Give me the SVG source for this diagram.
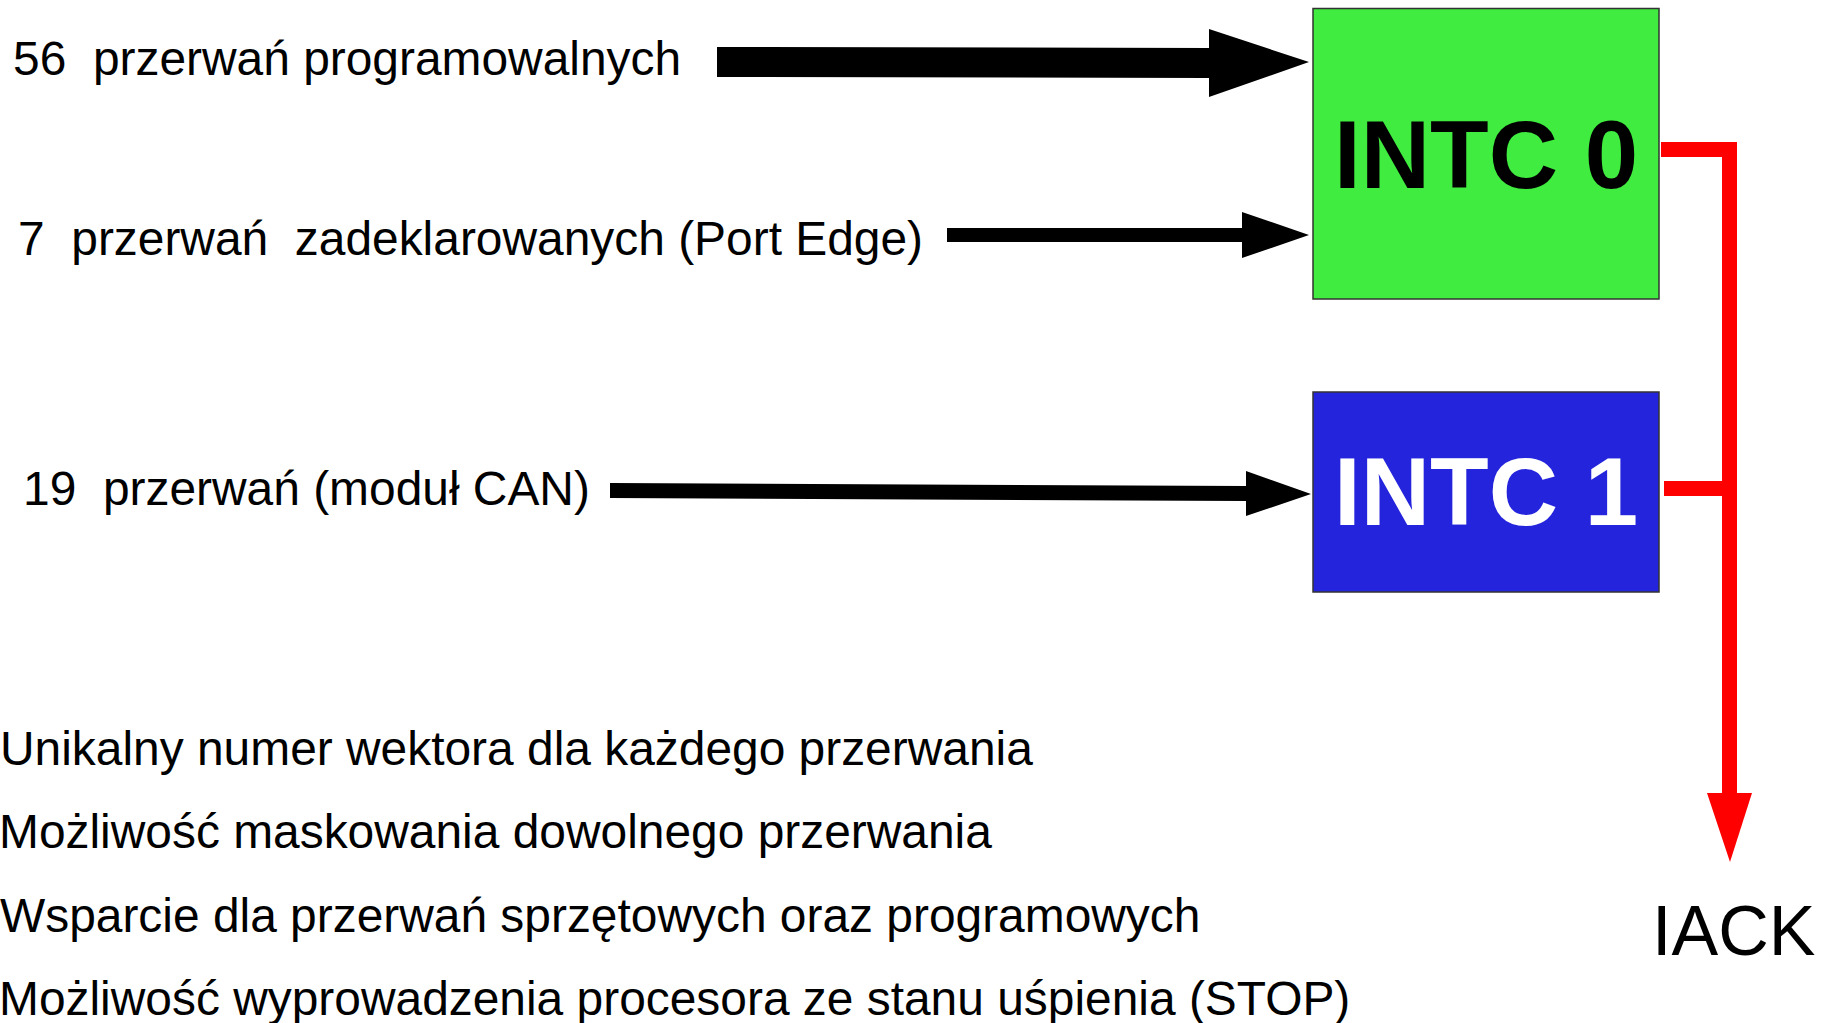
<svg xmlns="http://www.w3.org/2000/svg" width="1829" height="1023" viewBox="0 0 1829 1023">
  <style>
    .lbl { font-family: "Liberation Sans", Arial, sans-serif; font-size: 47.9px; fill: #000; }
    .box-title { font-family: "Liberation Sans", Arial, sans-serif; font-weight: bold; font-size: 96px; text-anchor: middle; }
    .box { stroke: #333; stroke-width: 1.5; }
    .ack { fill: none; stroke: #ff0000; stroke-width: 15; stroke-linejoin: miter; stroke-linecap: butt; }
  </style>
  <rect width="1829" height="1023" fill="#ffffff"/>

  <!-- input labels -->
  <text class="lbl" x="13" y="75" xml:space="preserve">56  przerwań programowalnych</text>
  <text class="lbl" x="18" y="255" xml:space="preserve">7  przerwań  zadeklarowanych (Port Edge)</text>
  <text class="lbl" x="23" y="505" xml:space="preserve">19  przerwań (moduł CAN)</text>

  <!-- feature list -->
  <text class="lbl" x="0" y="765">Unikalny numer wektora dla każdego przerwania</text>
  <text class="lbl" x="-1" y="848">Możliwość maskowania dowolnego przerwania</text>
  <text class="lbl" x="0" y="932">Wsparcie dla przerwań sprzętowych oraz programowych</text>
  <text class="lbl" x="-1" y="1015">Możliwość wyprowadzenia procesora ze stanu uśpienia (STOP)</text>

  <!-- controllers -->
  <g id="intc0">
    <rect class="box" x="1313" y="8.5" width="346" height="290.5" fill="#3fec3f"/>
    <text class="box-title" x="1486" y="188" fill="#000">INTC 0</text>
  </g>
  <g id="intc1">
    <rect class="box" x="1313" y="392" width="346" height="200" fill="#2424dc"/>
    <text class="box-title" x="1486" y="525" fill="#fff">INTC 1</text>
  </g>
  <g id="iack">
    <text class="lbl" x="1652" y="955" style="font-size:70px">IACK</text>
  </g>

  <!-- connectors -->
  <g id="connectors">
    <!-- 56 programmable interrupts -->
    <polygon points="717,47 1209,48 1209,29 1309,62 1209,97 1209,78 717,77" fill="#000"/>
    <!-- 7 port edge interrupts -->
    <polygon points="947,228 1242,228 1242,212 1309,235 1242,258 1242,242 947,242" fill="#000"/>
    <!-- 19 CAN interrupts -->
    <polygon points="610,483 1246,486 1246,471 1311,494 1246,516 1246,501 610,498" fill="#000"/>
    <!-- acknowledge bus -->
    <path class="ack" d="M1661,149.5 H1729.5 V794"/>
    <path class="ack" d="M1664,488.5 H1729.5"/>
    <polygon points="1707,793 1752,793 1730,862" fill="#ff0000"/>
  </g>
</svg>
